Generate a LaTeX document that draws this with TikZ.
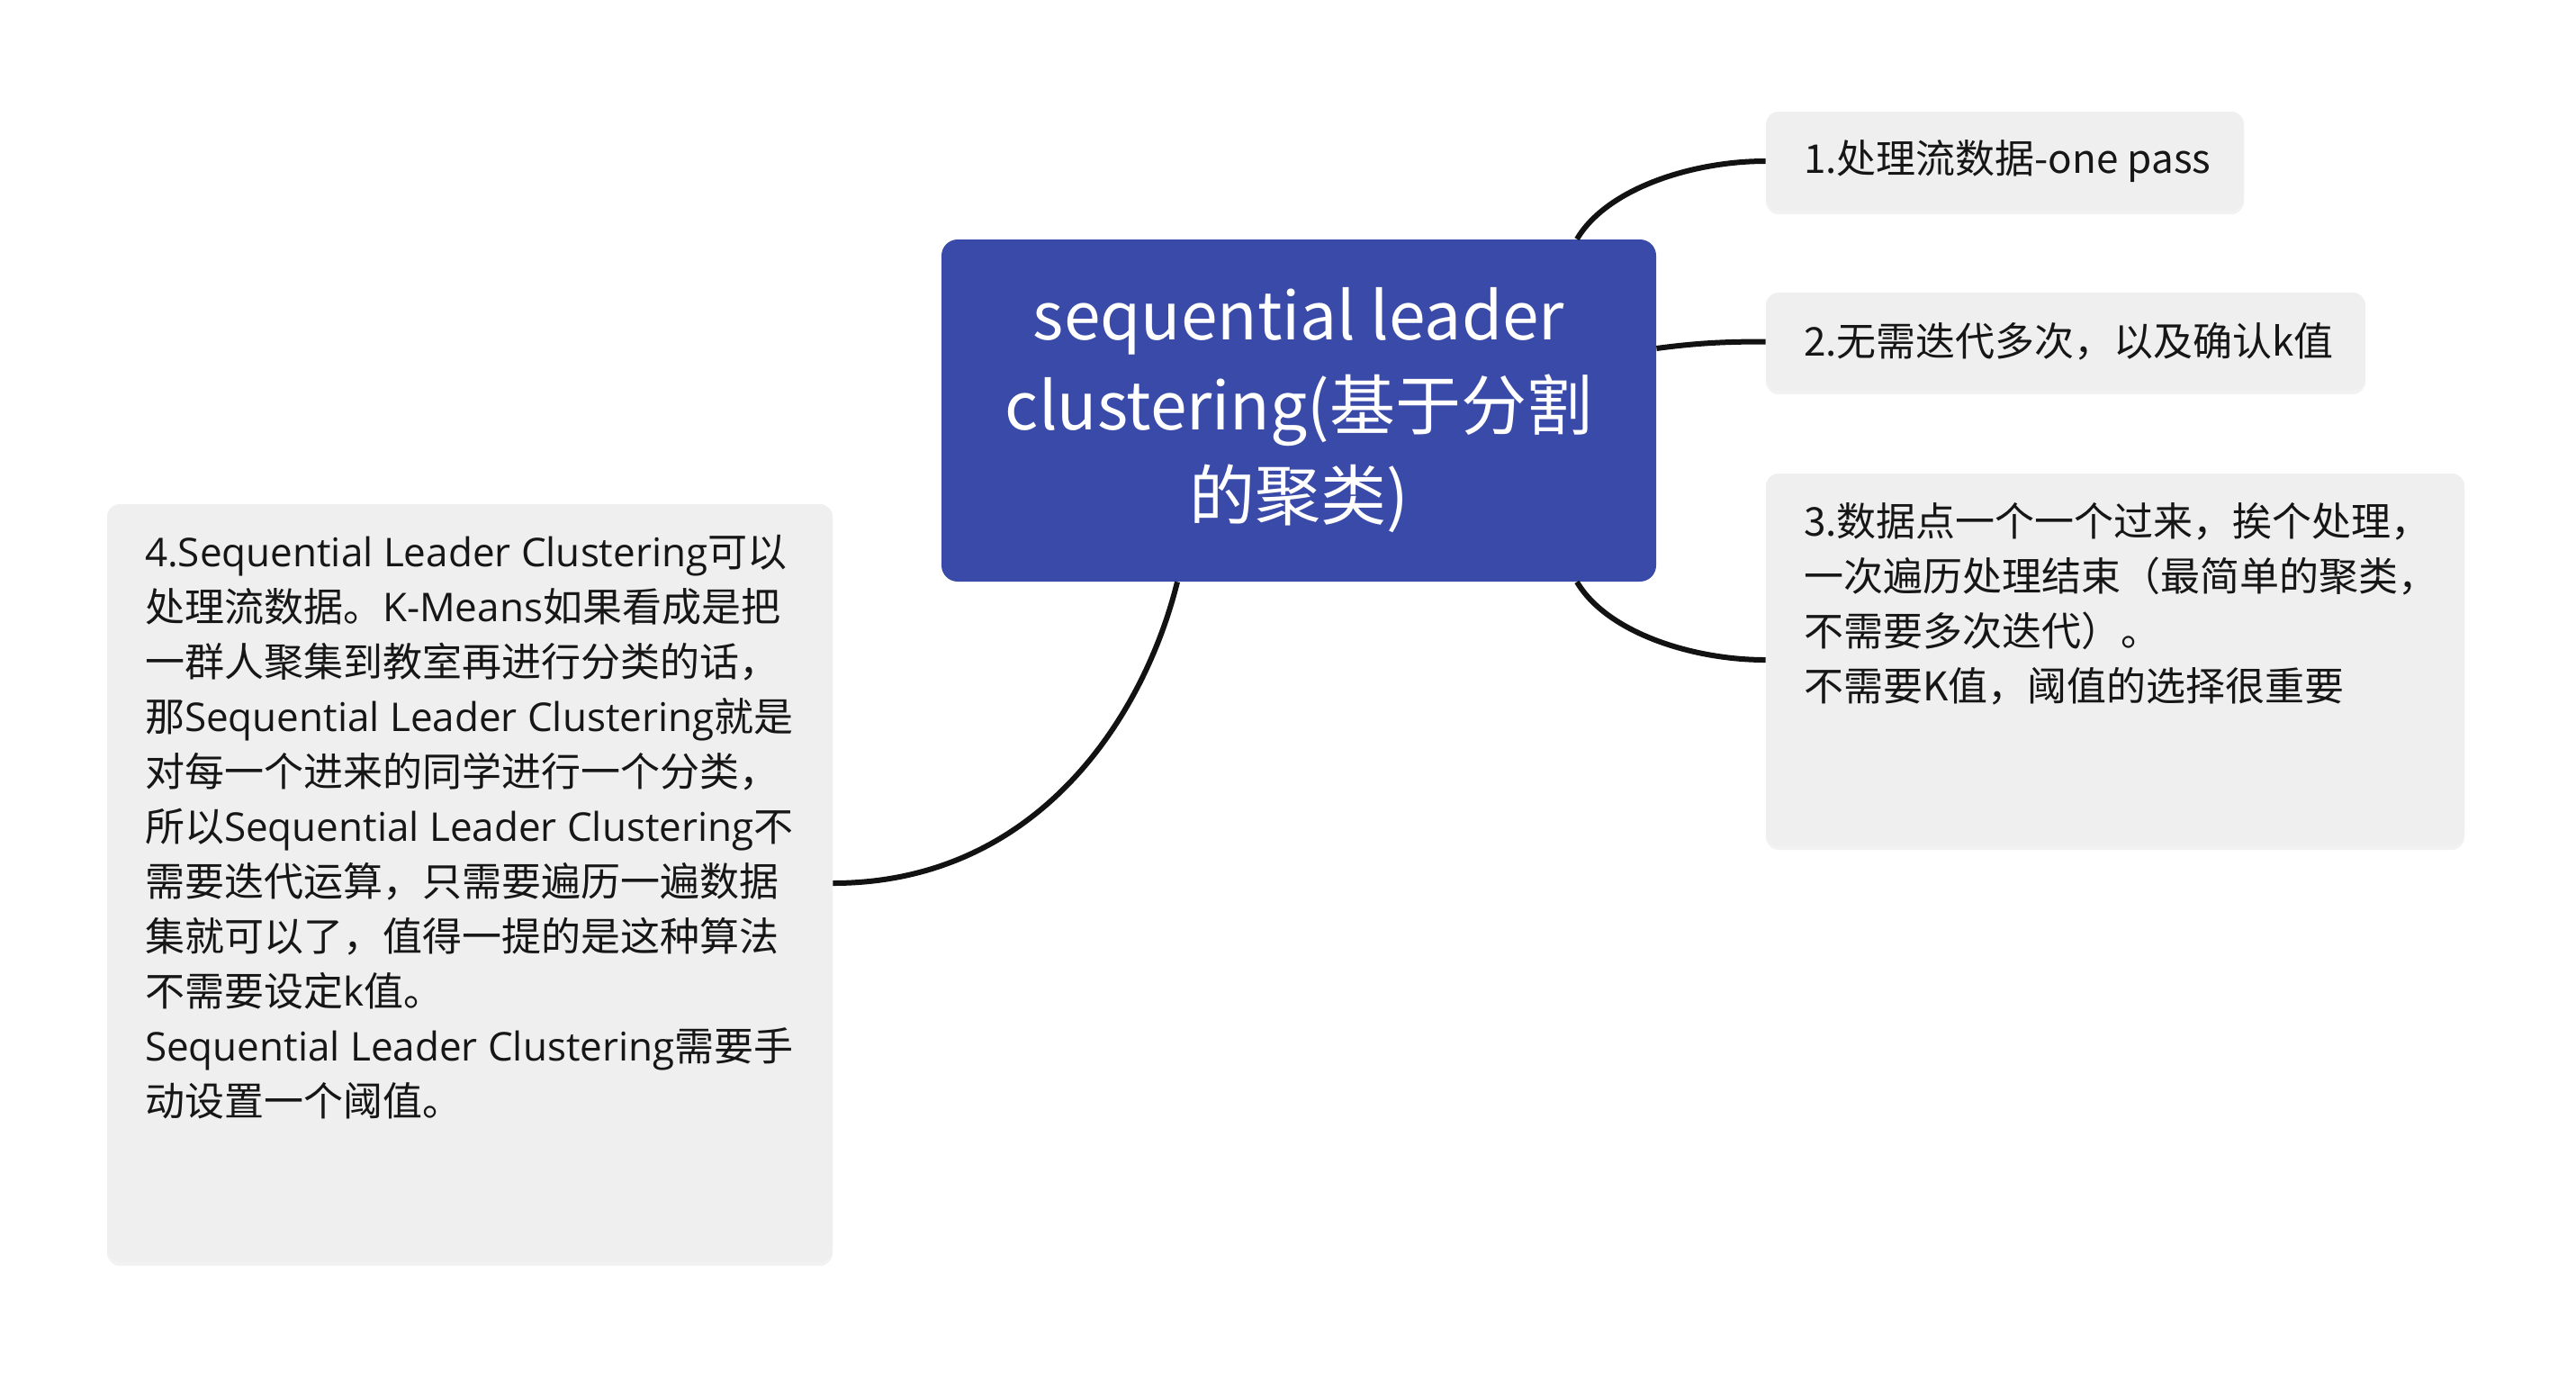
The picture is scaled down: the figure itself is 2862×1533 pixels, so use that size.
\documentclass[tikz,border=0pt]{standalone}
\usepackage{fontspec}
\setmainfont{Noto Sans CJK SC}
\newfontfamily\os{Open Sans}
\usetikzlibrary{shadows}
\definecolor{hubblue}{RGB}{58,74,168}
\definecolor{cardgray}{RGB}{239,239,239}
\definecolor{inkc}{RGB}{22,22,22}
\definecolor{wirec}{RGB}{18,18,18}
\begin{document}
\begin{tikzpicture}[x=0.5pt,y=-0.5pt,
  card/.style={fill=cardgray, rounded corners=7pt, draw=none, inner sep=0pt,
    drop shadow={opacity=0.10, shadow xshift=0pt, shadow yshift=-2pt}},
  hubbox/.style={fill=hubblue, rounded corners=9pt, draw=none, inner sep=0pt,
    text=white, align=center, font=\fontsize{36.5pt}{50pt}\selectfont},
  txt/.style={font=\fontsize{22pt}{30.5pt}\selectfont, text=inkc, align=left, inner sep=0pt},
  wire/.style={draw=wirec, line width=3pt}]
\fill[white] (0,0) rectangle (2862,1533);
\useasboundingbox (0,0) rectangle (2862,1533);

% central topic
\node[hubbox, minimum width=397pt, minimum height=190pt] (c) at (1443,456)
  {sequential leader\\clustering(基于分割\\的聚类)};

% cards
\node[card, minimum width=265.5pt, minimum height=55pt] (b1) at (2227.5,179) {};
\node[card, minimum width=333pt, minimum height=54.5pt] (b2) at (2295,379.5) {};
\node[card, minimum width=388pt, minimum height=207pt] (b3) at (2350,733) {};
\node[card, minimum width=403pt, minimum height=421pt] (b4) at (522,981) {};

% texts
\node[txt, anchor=west] (t1) at ([xshift=21pt]b1.west) {1.处理流数据-one pass};
\node[txt, anchor=west] (t2) at ([xshift=21pt]b2.west) {2.无需迭代多次，以及确认k值};
\node[txt, anchor=north west] (t3) at ([xshift=21pt,yshift=-16pt]b3.north west)
  {3.数据点一个一个过来，挨个处理，\\
   一次遍历处理结束（最简单的聚类，\\
   不需要多次迭代）。\\
   不需要K值，阈值的选择很重要};
\node[txt, anchor=north west] (t4) at ([xshift=21pt,yshift=-17pt]b4.north west)
  {{\os 4.Sequential Leader Clustering}可以\\
   处理流数据。{\os K-Means}如果看成是把\\
   一群人聚集到教室再进行分类的话，\\
   那{\os Sequential Leader Clustering}就是\\
   对每一个进来的同学进行一个分类，\\
   所以{\os Sequential Leader Clustering}不\\
   需要迭代运算，只需要遍历一遍数据\\
   集就可以了，值得一提的是这种算法\\
   不需要设定{\os k}值。\\
   {\os Sequential Leader Clustering}需要手\\
   动设置一个阈值。};

% connectors
\draw[wire] ([xshift=154.5pt]c.north) .. controls +(33,-56) and +(-82,0) .. (b1.west);
\draw[wire] ([yshift=34.5pt]c.east) .. controls +(45,-6) and +(-45,0) .. (b2.west);
\draw[wire] ([xshift=154.5pt]c.south) .. controls +(33,56) and +(-82,0) .. (b3.west);
\draw[wire] ([xshift=-67.5pt]c.south) .. controls +(-38,153) and +(225,0) .. (b4.east);
\end{tikzpicture}
\end{document}
